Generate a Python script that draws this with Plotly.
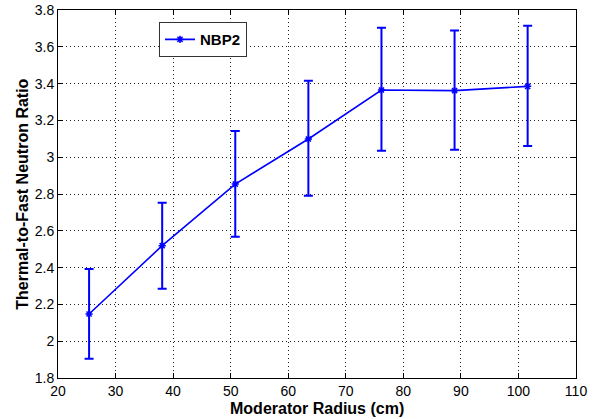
import plotly.graph_objects as go

# Moderator radius (cm) and measured thermal-to-fast neutron ratio
radius_cm = [25.4, 38.1, 50.8, 63.5, 76.2, 88.9, 101.6]
ratio = [2.148, 2.519, 2.854, 3.099, 3.365, 3.362, 3.385]
err_upper = [2.392, 2.753, 3.142, 3.416, 3.704, 3.688, 3.715]
err_lower = [1.905, 2.285, 2.568, 2.791, 3.035, 3.041, 3.061]

x_ticks = [20, 30, 40, 50, 60, 70, 80, 90, 100, 110]
y_ticks = [1.8, 2.0, 2.2, 2.4, 2.6, 2.8, 3.0, 3.2, 3.4, 3.6, 3.8]
y_tick_text = ["1.8", "2", "2.2", "2.4", "2.6", "2.8", "3", "3.2", "3.4", "3.6", "3.8"]

plus = [u - r for u, r in zip(err_upper, ratio)]
minus = [r - l for r, l in zip(ratio, err_lower)]

blue = "#0000ff"
font_family = "Liberation Sans, Arial, sans-serif"

fig = go.Figure()
fig.add_trace(go.Scatter(
    x=radius_cm, y=ratio, mode="lines+markers", name="<b>NBP2</b>",
    line=dict(color=blue, width=1.6),
    marker=dict(symbol="asterisk-open", size=6, color=blue,
                line=dict(color=blue, width=1.5)),
    error_y=dict(type="data", symmetric=False, array=plus, arrayminus=minus,
                 color=blue, thickness=2, width=4.5),
))

axis_common = dict(
    showline=True, linecolor="black", linewidth=1, mirror="ticks",
    ticks="inside", ticklen=5, tickcolor="black",
    showgrid=True, gridcolor="#222222", griddash="1px,3px", gridwidth=1,
    zeroline=False, automargin=False,
    tickfont=dict(family=font_family, size=14, color="black"),
)

fig.update_xaxes(range=[20, 110], tickvals=x_ticks, **axis_common)
fig.update_yaxes(range=[1.8, 3.8], tickvals=y_ticks, ticktext=y_tick_text,
                 **axis_common)

# Axis titles placed as paper-anchored annotations
title_font = dict(family=font_family, size=16, color="black")
fig.add_annotation(text="<b>Moderator Radius (cm)</b>", xref="paper", yref="paper",
                   x=0.5, y=-0.082, xanchor="center", yanchor="middle",
                   showarrow=False, font=title_font)
fig.add_annotation(text="<b>Thermal-to-Fast Neutron Ratio</b>", xref="paper", yref="paper",
                   x=-0.07, y=0.5, xanchor="center", yanchor="middle",
                   textangle=-90, showarrow=False, font=title_font)

fig.update_layout(
    width=596, height=419,
    margin=dict(l=58, r=20, t=10, b=41),
    paper_bgcolor="white", plot_bgcolor="white",
    font=dict(family=font_family, color="black"),
    showlegend=True,
    legend=dict(x=0.195, y=0.967, xanchor="left", yanchor="top",
                bordercolor="#333333", borderwidth=1, bgcolor="white",
                font=dict(family=font_family, size=15, color="black"),
                itemwidth=30),
)

fig.write_html("out.html")
